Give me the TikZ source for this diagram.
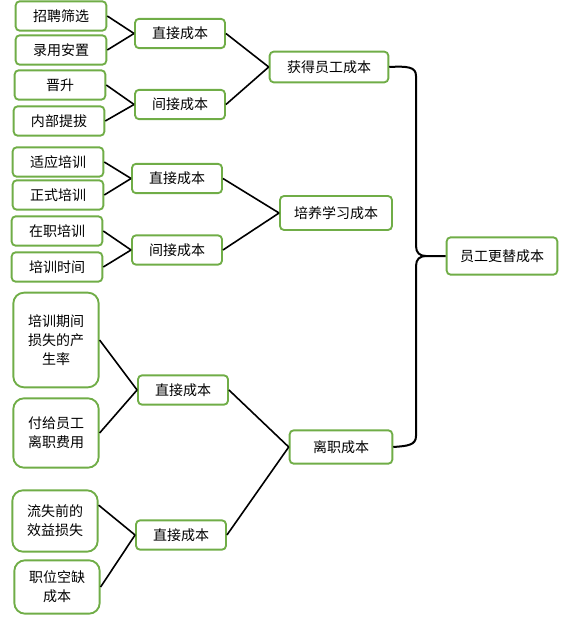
\documentclass[tikz,border=0pt]{standalone}
\usepackage{fontspec}
\setmainfont{Noto Sans CJK SC}
\definecolor{boxgreen}{RGB}{112,173,71}

\begin{document}
\begin{tikzpicture}[
        x=0.75pt, y=-0.75pt,
        every node/.style={draw=boxgreen,line width=1.4pt,rounded corners=3pt,fill=white,
          inner sep=0pt,align=center,font=\fontsize{10.5}{14.25}\selectfont},
        leaf/.style={minimum width=68pt,minimum height=22pt},
        tall/.style={rounded corners=8pt,minimum width=64pt},
        mid/.style={minimum width=67.5pt,minimum height=22pt},
        link/.style={draw=black,line width=1.2pt},
      ]
      \useasboundingbox (0,0) rectangle (575,624);
      % Leaves
      \node[leaf] (zp) at (61,16) {招聘筛选};
      \node[leaf] (ly) at (61,50) {录用安置};
      \node[leaf] (js) at (60,85) {晋升};
      \node[leaf] (nb) at (59,121) {内部提拔};
      \node[leaf] (sy) at (58,162) {适应培训};
      \node[leaf] (zs) at (58,195) {正式培训};
      \node[leaf] (zz) at (57,231) {在职培训};
      \node[leaf] (ps) at (57,267) {培训时间};
      \node[tall,minimum height=71pt] (qj) at (56,340) {培训期间\\损失的产\\生率};
      \node[tall,minimum height=52pt] (fg) at (56,433) {付给员工\\离职费用};
      \node[tall,minimum height=46pt] (ls) at (55,521) {流失前的\\效益损失};
      \node[tall,minimum height=40pt] (zw) at (57,587) {职位空缺\\成本};
      % Direct / indirect costs
      \node[mid] (zj1) at (180,33.5) {直接成本};
      \node[mid] (jj1) at (180,104.5) {间接成本};
      \node[mid] (zj2) at (177,178.5) {直接成本};
      \node[mid] (jj2) at (177,250) {间接成本};
      \node[mid] (zj3) at (183,390) {直接成本};
      \node[mid] (zj4) at (181,535) {直接成本};
      % Main parts
      \node[minimum width=89pt,minimum height=23pt] (hd) at (329,67) {获得员工成本};
      \node[minimum width=84pt,minimum height=25.5pt] (py) at (336,213) {培养学习成本};
      \node[minimum width=77pt,minimum height=25pt] (lz) at (341,447) {离职成本};
      \node[minimum width=83pt,minimum height=28pt] (yg) at (502,256) {员工更替成本};
      \coordinate (cusp) at (426,256);

      \foreach \a/\b in {zp.east/zj1,ly.east/zj1,js.east/jj1,nb.east/jj1,
          sy.east/zj2,zs.east/zj2,zz.east/jj2,ps.east/jj2,
          qj.east/zj3,fg.east/zj3,ls.20/zj4,zw.east/zj4,
          zj1.east/hd,jj1.east/hd,zj2.east/py,jj2.east/py,
          zj3.east/lz,zj4.east/lz}
        \draw[link] (\a) -- (\b.west);
      % Brace
      \draw[link,line width=1.5pt] (hd.east) .. controls (408,66) and (416,67) .. (416,76)
        -- (416,246) .. controls (416,253) and (420,256) .. (cusp) -- (yg.west);
      \draw[link,line width=1.5pt] (lz.east) .. controls (408,446) and (416,445) .. (416,436)
        -- (416,266) .. controls (416,259) and (420,256) .. (cusp);
    \end{tikzpicture}
\end{document}
